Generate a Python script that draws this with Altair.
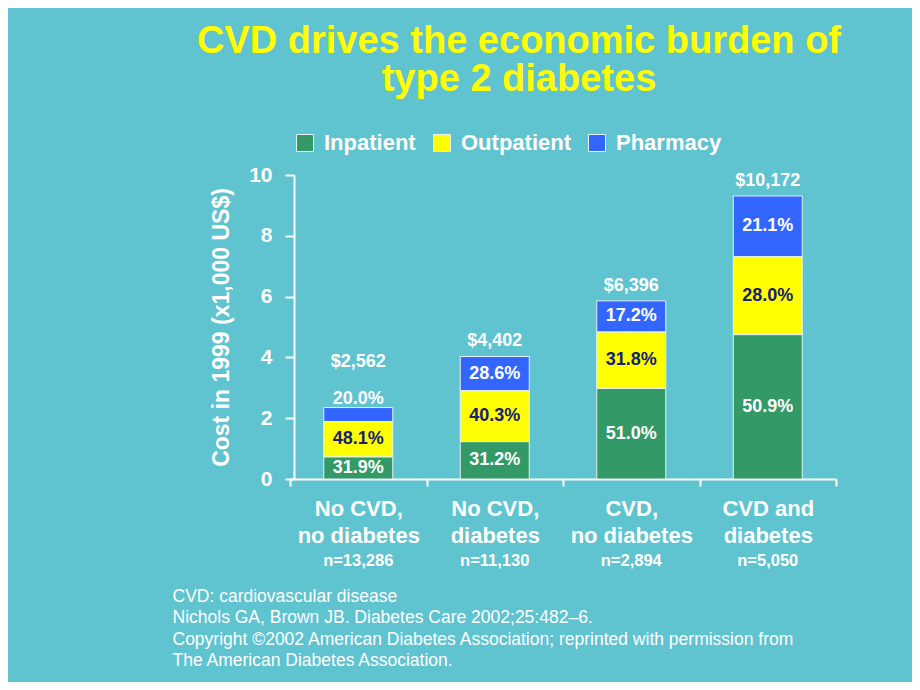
import altair as alt
import pandas as pd

# ---- data ----
categories = ["No CVD,\nno diabetes", "No CVD,\ndiabetes", "CVD,\nno diabetes", "CVD and\ndiabetes"]
n_labels = ["n=13,286", "n=11,130", "n=2,894", "n=5,050"]
components = ["Inpatient", "Outpatient", "Pharmacy"]
inpatient = [0.73, 1.23, 2.98, 4.75]
outpatient = [1.16, 1.68, 1.86, 2.57]
pharmacy = [0.46, 1.12, 1.02, 1.99]
inpatient_pct = ["31.9%", "31.2%", "51.0%", "50.9%"]
outpatient_pct = ["48.1%", "40.3%", "31.8%", "28.0%"]
pharmacy_pct = ["20.0%", "28.6%", "17.2%", "21.1%"]
totals = ["$2,562", "$4,402", "$6,396", "$10,172"]
colors = ["#339966", "#FFFF00", "#3366FF"]

BG = "#5FC3D0"
FONT = "Liberation Sans"

rows = []
for i, cat in enumerate(categories):
    base = 0.0
    for k, (comp, vals, pcts) in enumerate(zip(components,
                                               [inpatient, outpatient, pharmacy],
                                               [inpatient_pct, outpatient_pct, pharmacy_pct])):
        v = vals[i]
        rows.append(dict(category=cat, component=comp, order=k, value=v,
                         y0=base, y1=base + v, mid=base + v / 2, pct=pcts[i],
                         small=v < 0.6))
        base += v
df = pd.DataFrame(rows)

tot_rows = []
for i, cat in enumerate(categories):
    sub = df[df.category == cat]
    tot_rows.append(dict(category=cat, total=sub.value.sum(), label=totals[i],
                         raised=bool(sub[sub.component == "Pharmacy"].small.iloc[0]),
                         n=n_labels[i]))
tdf = pd.DataFrame(tot_rows)

W, H = 542, 304

x_enc = alt.X("category:N", sort=categories,
              scale=alt.Scale(range=[-4, W], paddingInner=0, paddingOuter=0),
              axis=alt.Axis(
                  labelExpr="split(datum.label, '\\n')",
                  labelAngle=0, labelFont=FONT, labelFontSize=22, labelFontWeight="bold",
                  labelColor="white", labelLineHeight=27, labelBaseline="top",
                  labelPadding=12, tickBand="extent", tickSize=7, tickWidth=2,
                  tickColor="white", domainColor="white", domainWidth=2,
                  title=["CVD: cardiovascular disease",
                         "Nichols GA, Brown JB. Diabetes Care 2002;25:482\u20136.",
                         "Copyright \u00a92002 American Diabetes Association; reprinted with permission from",
                         "The American Diabetes Association."],
                  titleFont=FONT, titleFontSize=17.5, titleFontWeight="normal",
                  titleColor="white", titleAlign="left", titleBaseline="alphabetic",
                  titleX=-122, titleY=122, titleLineHeight=21.5, titleAngle=0))

y_scale = alt.Scale(domain=[0, 10], nice=False)

bars = alt.Chart(df).mark_bar(size=69, stroke="#E4F2F2", strokeWidth=1).encode(
    x=x_enc,
    y=alt.Y("y0:Q", scale=y_scale,
            axis=alt.Axis(values=[0, 2, 4, 6, 8, 10], grid=False,
                          labelFont=FONT, labelFontSize=21, labelFontWeight="bold",
                          labelColor="white", labelPadding=13,
                          tickSize=9, tickWidth=2, tickColor="white",
                          domainColor="white", domainWidth=2,
                          title="Cost in 1999 (x1,000 US$)", titleFont=FONT,
                          titleFontSize=23, titleFontWeight="bold", titleColor="white",
                          titleAngle=270, titleX=-66, titleY=H / 2,
                          titleAlign="center", titleBaseline="alphabetic")),
    y2="y1:Q",
    color=alt.Color("component:N", sort=components,
                    scale=alt.Scale(domain=components, range=colors),
                    legend=alt.Legend(title=None, orient="none", direction="horizontal",
                                      legendX=0, legendY=-43, padding=0,
                                      symbolType="square", symbolSize=289,
                                      symbolStrokeColor="#E4F2F2", symbolStrokeWidth=1,
                                      symbolOpacity=1,
                                      labelFont=FONT, labelFontSize=22,
                                      labelFontWeight="bold", labelColor="white",
                                      labelOffset=8, columnPadding=15, columns=3)),
    order=alt.Order("order:Q"),
)

pct_inside = alt.Chart(df).transform_filter("!datum.small").mark_text(
    font=FONT, fontSize=18, fontWeight="bold", baseline="middle", align="center"
).encode(
    x=alt.X("category:N", sort=categories),
    y=alt.Y("mid:Q", scale=y_scale),
    text="pct:N",
    color=alt.condition("datum.component == 'Outpatient'",
                        alt.value("#16207A"), alt.value("white")),
)

pct_above = alt.Chart(df).transform_filter("datum.small").mark_text(
    font=FONT, fontSize=18, fontWeight="bold", baseline="alphabetic", align="center",
    dy=-4, color="white"
).encode(
    x=alt.X("category:N", sort=categories),
    y=alt.Y("y1:Q", scale=y_scale),
    text="pct:N",
)

tot_normal = alt.Chart(tdf).transform_filter("!datum.raised").mark_text(
    font=FONT, fontSize=18, fontWeight="bold", baseline="alphabetic", align="center",
    dy=-10, color="white"
).encode(
    x=alt.X("category:N", sort=categories),
    y=alt.Y("total:Q", scale=y_scale),
    text="label:N",
)

tot_raised = alt.Chart(tdf).transform_filter("datum.raised").mark_text(
    font=FONT, fontSize=18, fontWeight="bold", baseline="alphabetic", align="center",
    dy=-41, color="white"
).encode(
    x=alt.X("category:N", sort=categories),
    y=alt.Y("total:Q", scale=y_scale),
    text="label:N",
)

n_text = alt.Chart(tdf).mark_text(
    font=FONT, fontSize=16.5, fontWeight="bold", baseline="alphabetic", align="center",
    color="white"
).encode(
    x=alt.X("category:N", sort=categories),
    y=alt.value(391.4),
    text="n:N",
)

chart = alt.layer(bars, pct_inside, pct_above, tot_normal, tot_raised, n_text).properties(
    width=W, height=H,
    autosize=alt.AutoSizeParams(type="none"),
    padding={"left": 286, "top": 167, "right": 76, "bottom": 203},
    background=BG,
    title=alt.TitleParams(
        text=["CVD drives the economic burden of", "type 2 diabetes"],
        font=FONT, fontSize=38, fontWeight="bold", color="#FFFF00",
        anchor="middle", frame="group", dx=-46, dy=-23, lineHeight=38.5, offset=10,
    ),
).configure_view(stroke=None)

chart.save("out.html", embed_options={"renderer": "svg", "actions": False})
